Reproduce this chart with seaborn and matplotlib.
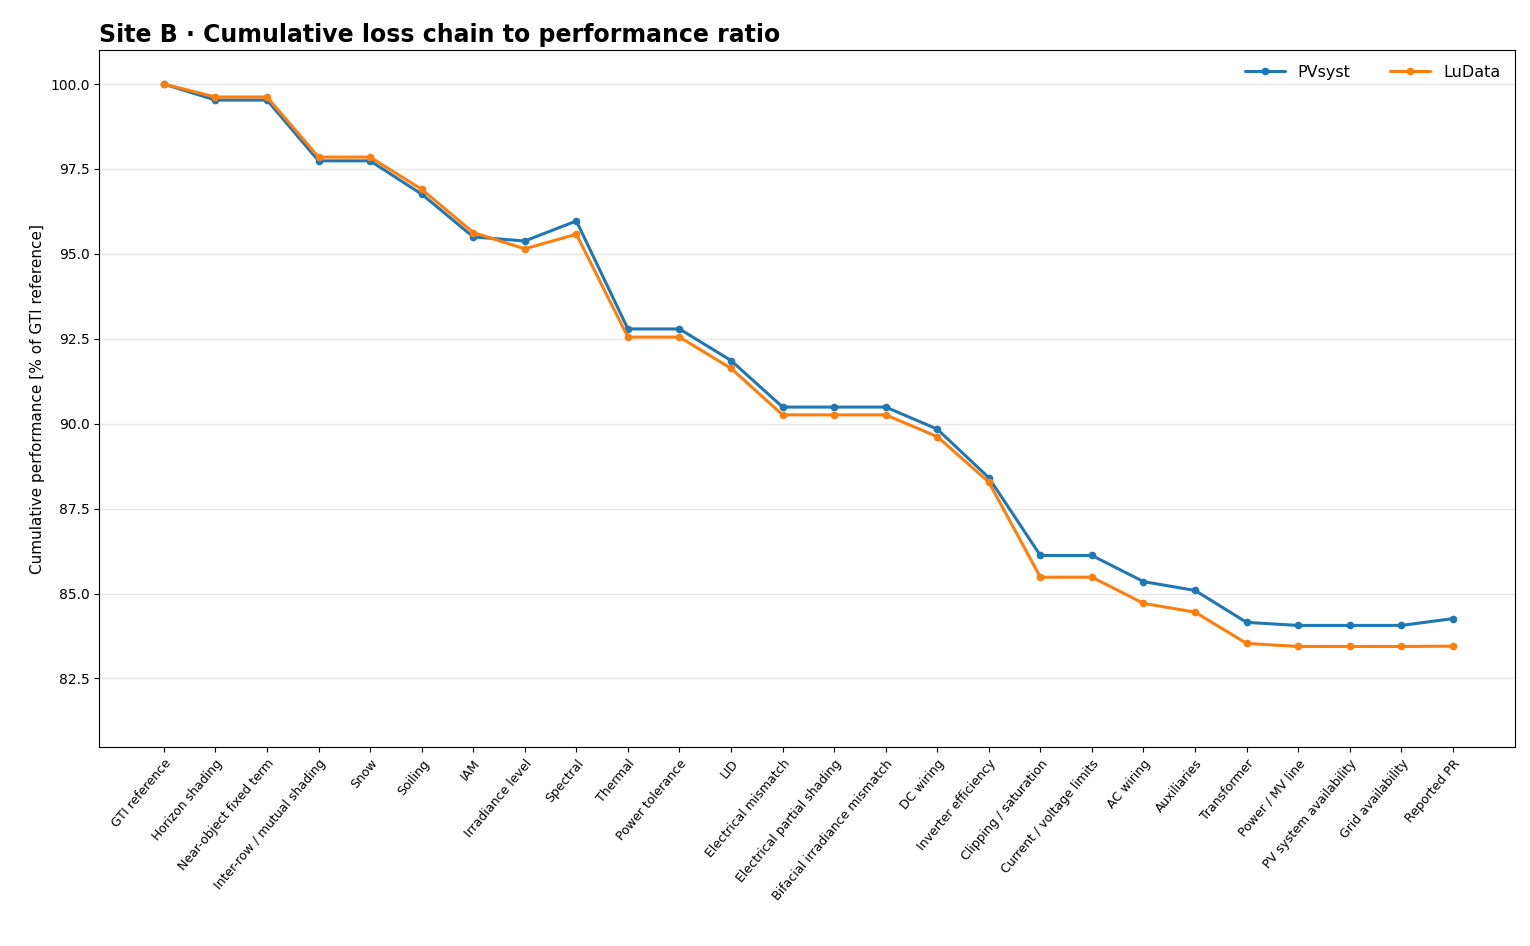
import matplotlib
matplotlib.use("Agg")
import matplotlib.pyplot as plt
import seaborn as sns
import pandas as pd

steps = ["GTI reference", "Horizon shading", "Near-object fixed term", "Inter-row / mutual shading",
         "Snow", "Soiling", "IAM", "Irradiance level", "Spectral", "Thermal", "Power tolerance", "LID",
         "Electrical mismatch", "Electrical partial shading", "Bifacial irradiance mismatch", "DC wiring",
         "Inverter efficiency", "Clipping / saturation", "Current / voltage limits", "AC wiring",
         "Auxiliaries", "Transformer", "Power / MV line", "PV system availability", "Grid availability",
         "Reported PR"]
pvsyst = [100, 99.53, 99.53, 97.74, 97.74, 96.76, 95.5, 95.38, 95.97, 92.79, 92.79, 91.86,
          90.49, 90.49, 90.49, 89.84, 88.41, 86.12, 86.12, 85.35, 85.09, 84.15, 84.06, 84.06, 84.06, 84.26]
ludata = [100, 99.62, 99.62, 97.85, 97.85, 96.9, 95.63, 95.15, 95.58, 92.55, 92.55, 91.63,
          90.26, 90.26, 90.26, 89.62, 88.28, 85.48, 85.48, 84.71, 84.45, 83.53, 83.44, 83.44, 83.44, 83.45]

sns.set_style("ticks")
plt.rcParams.update({"text.color": "black", "axes.labelcolor": "black",
                     "xtick.color": "black", "ytick.color": "black", "axes.edgecolor": "black"})
df = pd.DataFrame({"step": list(range(len(steps))) * 2,
                   "value": pvsyst + ludata,
                   "series": ["PVsyst"] * len(steps) + ["LuData"] * len(steps)})

fig, ax = plt.subplots(figsize=(15.3, 9.46), dpi=100)
sns.lineplot(data=df, x="step", y="value", hue="series", marker="o", markersize=5.5,
             markeredgewidth=0, linewidth=2.2, palette=["#1f77b4", "#ff7f0e"], ax=ax)
ax.set_xticks(range(len(steps)))
ax.set_xticklabels(steps, rotation=50, ha="right", rotation_mode="anchor", fontsize=9)
ax.set_xlim(-1.25, len(steps) + 0.2)
ax.set_ylim(80.47, 101.0)
ax.set_yticks([82.5, 85, 87.5, 90, 92.5, 95, 97.5, 100])
ax.set_yticklabels([f"{v:.1f}" for v in [82.5, 85, 87.5, 90, 92.5, 95, 97.5, 100]], fontsize=10)
ax.yaxis.grid(True, color="#e6e6e6", linewidth=1)
ax.set_xlabel("")
ax.set_ylabel("Cumulative performance [% of GTI reference]", fontsize=11)
ax.set_title("Site B · Cumulative loss chain to performance ratio", loc="left",
             fontsize=17, fontweight="bold", color="black")
ax.legend(title=None, frameon=False, ncol=2, loc="upper right", fontsize=11.5,
          columnspacing=2.5, handlelength=2.5)
fig.subplots_adjust(left=0.065, right=0.99, top=0.947, bottom=0.21)
fig.savefig("out.png", dpi=100)
